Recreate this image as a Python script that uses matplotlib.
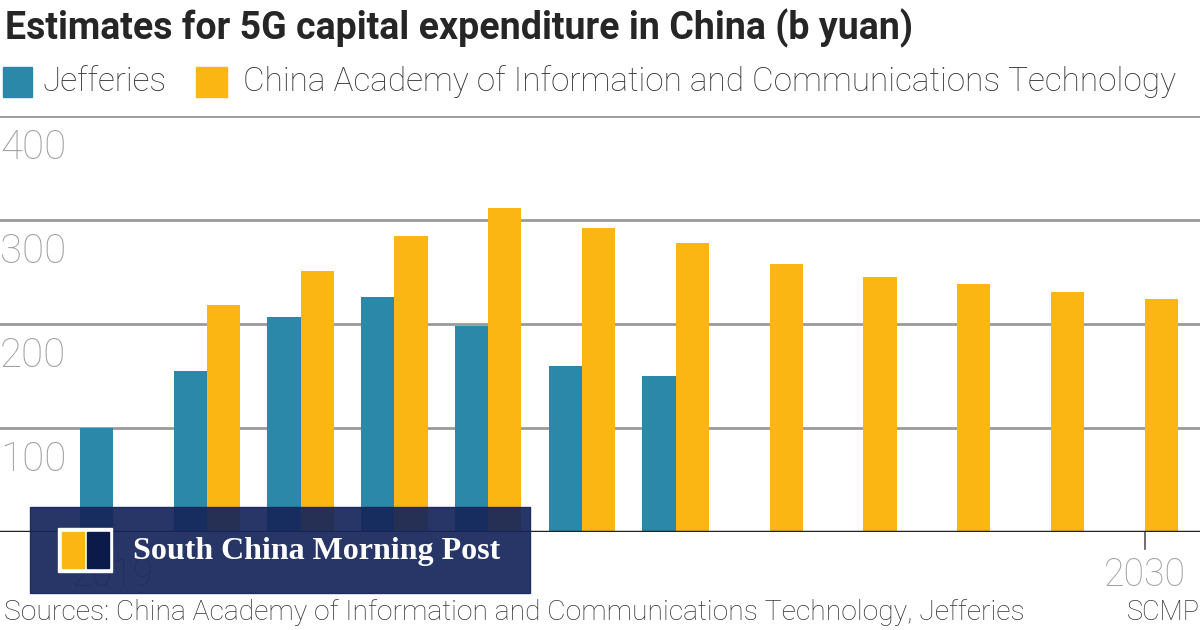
import matplotlib.pyplot as plt
from matplotlib.patches import Rectangle

# данные с графика (млрд юаней)
years = list(range(2019, 2031))
jefferies = [100, 155, 207, 226, 198, 160, 150]          # 2019-2025
caict = [218, 251, 285, 312, 292, 278, 258, 245, 238, 231, 224]  # 2020-2030
y_ticks = [100, 200, 300, 400]

blue = '#2b88a8'
yellow = '#fbb614'
navy = '#16265a'

plt.rcParams['font.family'] = ['Roboto', 'DejaVu Sans']

fig = plt.figure(figsize=(12, 6.3), dpi=100)
ax = fig.add_axes([0, 98/630, 1, 416/630])

bw = 0.355
xj = [years.index(2019) + i for i in range(len(jefferies))]
xc = [years.index(2020) + i for i in range(len(caict))]
ax.bar(xj, jefferies, width=-bw, align='edge', color=blue, zorder=2)
ax.bar(xc, caict, width=bw, align='edge', color=yellow, zorder=2)

# сетка
for t in y_ticks:
    ax.axhline(t, color='#9a9a9a', lw=2, zorder=1)
    ax.text(0.0, t - 12, str(t), transform=ax.get_yaxis_transform(),
            ha='left', va='top', fontsize=29, color='#a0a0a0', fontweight='light')
ax.axhline(0, color='#222222', lw=2.5, zorder=3)

ax.set_xlim(-1.205, 11.59)
ax.set_ylim(0, 400)
ax.axis('off')

# подписи по оси x: только 2019 и 2030
for yr in (2019, 2030):
    xi = years.index(yr)
    ax.plot([xi, xi], [0, -16], color='#555555', lw=1.2, clip_on=False)
    ax.text(xi, -24, str(yr), ha='center', va='top', fontsize=27,
            color='#a0a0a0', fontweight='light', clip_on=False)

# заголовок и легенда
fig.text(0.004, 1 - 28/630, 'Estimates for 5G capital expenditure in China (b yuan)',
         ha='left', va='center', fontsize=27, fontweight='bold', color='#262626')
fig.patches.append(Rectangle((3/1200, 1 - 97/630), 29/1200, 30/630,
                             transform=fig.transFigure, color=blue))
fig.text(42/1200, 1 - 82/630, 'Jefferies', ha='left', va='center',
         fontsize=24, fontweight='light', color='#333333')
fig.patches.append(Rectangle((196/1200, 1 - 97/630), 31/1200, 30/630,
                             transform=fig.transFigure, color=yellow))
fig.text(243/1200, 1 - 82/630,
         'China Academy of Information and Communications Technology',
         ha='left', va='center', fontsize=24, fontweight='light', color='#333333')

# источник
fig.text(0.003, 1 - 612/630,
         'Sources: China Academy of Information and Communications Technology, Jefferies',
         ha='left', va='center', fontsize=20.3, color='#333333', fontweight='light')
fig.text(1.0, 1 - 612/630, 'SCMP', ha='right', va='center', fontsize=19.5,
         color='#333333', fontweight='light')

# плашка SCMP поверх графика
fig.patches.append(Rectangle((30/1200, 1 - 593/630), 500/1200, 86/630,
                             transform=fig.transFigure, color=navy, alpha=0.93, zorder=10))
fig.patches.append(Rectangle((58/1200, 1 - 572/630), 54/1200, 44/630,
                             transform=fig.transFigure, color='white', zorder=11))
fig.patches.append(Rectangle((62/1200, 1 - 568/630), 22/1200, 36/630,
                             transform=fig.transFigure, color=yellow, zorder=12))
fig.patches.append(Rectangle((87/1200, 1 - 568/630), 22/1200, 36/630,
                             transform=fig.transFigure, color='#0c1a4a', zorder=12))
fig.text(133/1200, 1 - 551/630, 'South China Morning Post', ha='left', va='center',
         fontsize=23, fontweight='bold', color='white',
         family=['Liberation Serif', 'DejaVu Serif'], zorder=13)

fig.savefig('out.png', dpi=100)
